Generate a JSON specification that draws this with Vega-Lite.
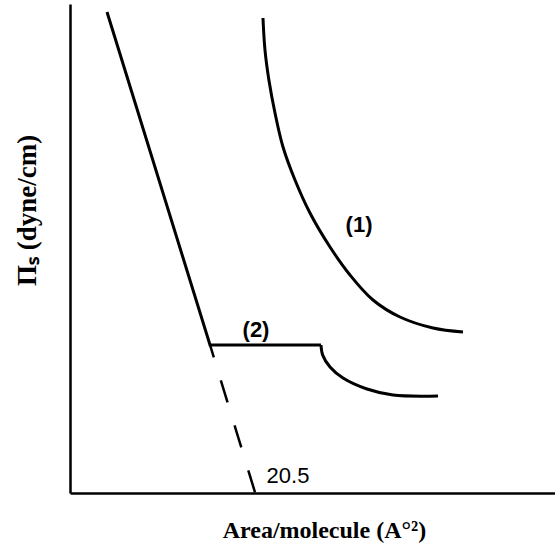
{
  "$schema": "https://vega.github.io/schema/vega-lite/v6.json",
  "width": 485,
  "height": 489,
  "autosize": {"type": "none"},
  "padding": {"left": 70, "top": 4, "right": 0, "bottom": 57},
  "background": "white",
  "config": {"view": {"stroke": null}},
  "datasets": {
    "curves": [
      {"series": "1", "area": 39.79, "pressure": 97.14, "order": 1},
      {"series": "1", "area": 40.2, "pressure": 90.6, "order": 2},
      {"series": "1", "area": 41.0, "pressure": 84.5, "order": 3},
      {"series": "1", "area": 42.27, "pressure": 77.71, "order": 4},
      {"series": "1", "area": 43.92, "pressure": 70.76, "order": 5},
      {"series": "1", "area": 46.39, "pressure": 64.01, "order": 6},
      {"series": "1", "area": 49.48, "pressure": 57.26, "order": 7},
      {"series": "1", "area": 53.61, "pressure": 50.31, "order": 8},
      {"series": "1", "area": 57.73, "pressure": 44.58, "order": 9},
      {"series": "1", "area": 62.47, "pressure": 39.47, "order": 10},
      {"series": "1", "area": 68.04, "pressure": 35.99, "order": 11},
      {"series": "1", "area": 74.85, "pressure": 33.74, "order": 12},
      {"series": "1", "area": 81.03, "pressure": 32.92, "order": 13},
      {"series": "2b", "area": 51.75, "pressure": 30.27, "order": 1},
      {"series": "2b", "area": 52.1, "pressure": 28.2, "order": 2},
      {"series": "2b", "area": 53.61, "pressure": 25.77, "order": 3},
      {"series": "2b", "area": 56.29, "pressure": 23.52, "order": 4},
      {"series": "2b", "area": 61.24, "pressure": 21.27, "order": 5},
      {"series": "2b", "area": 66.6, "pressure": 20.04, "order": 6},
      {"series": "2b", "area": 75.88, "pressure": 19.84, "order": 7}
    ],
    "straight": [
      {"area": 7.63, "pressure": 98.36, "order": 1},
      {"area": 28.87, "pressure": 30.27, "order": 2},
      {"area": 51.75, "pressure": 30.27, "order": 3}
    ],
    "extrap": [
      {"area": 28.87, "pressure": 30.27, "order": 1},
      {"area": 38.19, "pressure": 0, "order": 2}
    ],
    "labels": [
      {"text": "(1)", "area": 59.6, "pressure": 53.4},
      {"text": "(2)", "area": 38.35, "pressure": 31.9}
    ],
    "value": [
      {"text": "20.5", "area": 44.95, "pressure": 2.04}
    ]
  },
  "encoding": {
    "x": {
      "field": "area", "type": "quantitative",
      "scale": {"domain": [0, 100], "nice": false, "zero": false},
      "axis": {
        "title": "Area/molecule (A°²)",
        "titleFont": "Liberation Serif", "titleFontSize": 24, "titleFontWeight": "bold",
        "titleColor": "black",
        "titleX": 254, "titleY": 44, "titleAlign": "center", "titleBaseline": "alphabetic",
        "labels": false, "ticks": false, "grid": false,
        "domainColor": "black", "domainWidth": 2.5
      }
    },
    "y": {
      "field": "pressure", "type": "quantitative",
      "scale": {"domain": [0, 100], "nice": false, "zero": false},
      "axis": {
        "title": "Πₛ (dyne/cm)",
        "titleFont": "Liberation Serif", "titleFontSize": 27, "titleFontWeight": "bold",
        "titleColor": "black", "titleAngle": -90,
        "titleX": -35, "titleY": 206, "titleAlign": "center", "titleBaseline": "alphabetic",
        "labels": false, "ticks": false, "grid": false,
        "domainColor": "black", "domainWidth": 2.5
      }
    }
  },
  "layer": [
    {
      "data": {"name": "curves"},
      "mark": {"type": "line", "color": "black", "strokeWidth": 3, "interpolate": "catmull-rom"},
      "encoding": {
        "detail": {"field": "series"},
        "order": {"field": "order", "type": "quantitative"}
      }
    },
    {
      "data": {"name": "straight"},
      "mark": {"type": "line", "color": "black", "strokeWidth": 3, "strokeJoin": "miter"},
      "encoding": {
        "order": {"field": "order", "type": "quantitative"}
      }
    },
    {
      "data": {"name": "extrap"},
      "mark": {"type": "line", "color": "black", "strokeWidth": 2.5, "strokeDash": [23, 24], "strokeDashOffset": 10},
      "encoding": {
        "order": {"field": "order", "type": "quantitative"}
      }
    },
    {
      "data": {"name": "labels"},
      "mark": {"type": "text", "font": "Liberation Sans", "fontSize": 22, "fontWeight": "bold", "color": "black", "align": "center", "baseline": "alphabetic"},
      "encoding": {"text": {"field": "text"}}
    },
    {
      "data": {"name": "value"},
      "mark": {"type": "text", "font": "Liberation Sans", "fontSize": 22, "color": "black", "align": "center", "baseline": "alphabetic"},
      "encoding": {"text": {"field": "text"}}
    }
  ]
}
